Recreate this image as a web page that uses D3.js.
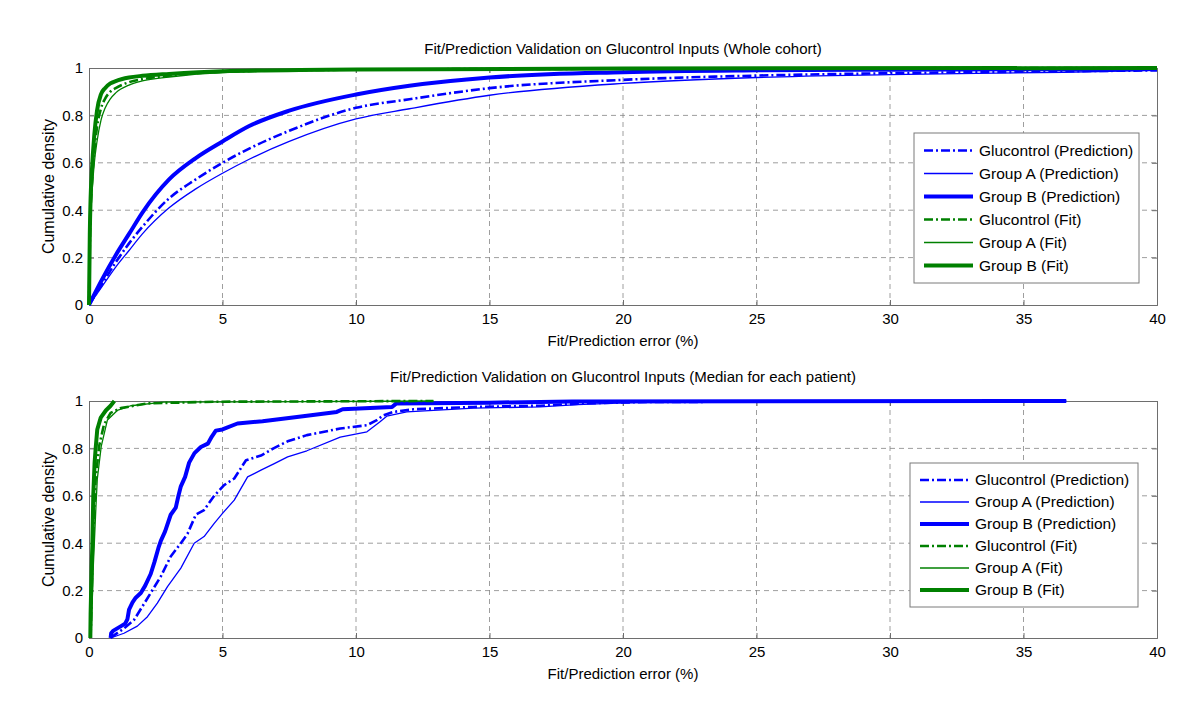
<!DOCTYPE html>
<html>
<head>
<meta charset="utf-8">
<script src="https://cdn.jsdelivr.net/npm/d3@7"></script>
<style>
  body { margin: 0; background: #fff; }
  svg { display: block; font-family: "Liberation Sans", Arial, sans-serif; }
</style>
</head>
<body>
<svg id="chart" width="1200" height="714"></svg>
<script>
// ---- data ----
var xTicks = [0, 5, 10, 15, 20, 25, 30, 35, 40];
var yTicks = [0, 0.2, 0.4, 0.6, 0.8, 1];
var yTickLabels = ["0", "0.2", "0.4", "0.6", "0.8", "1"];
var legendLabels = ["Glucontrol (Prediction)", "Group A (Prediction)", "Group B (Prediction)",
                    "Glucontrol (Fit)", "Group A (Fit)", "Group B (Fit)"];
var panelTitles = ["Fit/Prediction Validation on Glucontrol Inputs (Whole cohort)",
                   "Fit/Prediction Validation on Glucontrol Inputs (Median for each patient)"];

// whole cohort
var wholeGluPred = [[0,0],[0.5,0.09],[1,0.18],[1.5,0.26],[2,0.33],[3,0.45],[4,0.53],[5,0.6],[6,0.66],[7.5,0.735],[10,0.832],[12,0.868],[15,0.915],[20,0.95],[25,0.968],[30,0.978],[36.5,0.986],[40,0.99]];
var wholeAPred   = [[0,0],[0.5,0.08],[1,0.16],[1.5,0.23],[2,0.3],[3,0.41],[4,0.49],[5,0.556],[6,0.615],[7.5,0.69],[10,0.785],[12,0.828],[15,0.885],[20,0.935],[25,0.96],[30,0.972],[36.5,0.982],[40,0.99]];
var wholeBPred   = [[0,0],[0.5,0.11],[1,0.21],[1.5,0.3],[2,0.39],[3,0.53],[4,0.62],[5,0.69],[6,0.755],[7.5,0.82],[10,0.888],[12,0.925],[15,0.96],[20,0.982],[25,0.99],[30,0.993],[40,0.996]];
var wholeGluFit  = [[0,0],[0.03,0.25],[0.06,0.4],[0.1,0.5],[0.2,0.65],[0.3,0.75],[0.45,0.83],[0.6,0.87],[0.8,0.9],[1,0.915],[1.5,0.94],[2,0.953],[3,0.968],[5,0.984],[10,0.993],[20,0.997],[40,1]];
var wholeAFit    = [[0,0],[0.03,0.22],[0.06,0.37],[0.1,0.45],[0.2,0.6],[0.3,0.69],[0.45,0.78],[0.6,0.83],[0.8,0.87],[1,0.895],[1.5,0.928],[2,0.946],[3,0.962],[5,0.981],[10,0.992],[20,0.996],[40,1]];
var wholeBFit    = [[0,0],[0.03,0.3],[0.06,0.45],[0.1,0.55],[0.2,0.72],[0.3,0.82],[0.45,0.89],[0.6,0.915],[0.8,0.935],[1,0.945],[1.5,0.96],[2,0.967],[3,0.975],[5,0.986],[10,0.994],[20,0.998],[40,1]];

// median for each patient
var medGluPred = [[0.81,0],[0.88,0.007],[1.31,0.04],[1.69,0.077],[2.0,0.133],[2.31,0.19],[2.69,0.26],[3.06,0.344],[3.44,0.4],[3.69,0.44],[4.0,0.52],[4.31,0.54],[4.69,0.6],[5.06,0.645],[5.44,0.673],[5.88,0.75],[6.44,0.77],[6.91,0.8],[7.44,0.83],[8.16,0.856],[9.41,0.884],[10.41,0.898],[10.78,0.919],[11.03,0.94],[11.4,0.954],[12.15,0.965],[14.4,0.975],[16.9,0.98],[18.5,0.99],[21,0.996],[36.6,1]];
var medAPred   = [[0.81,0],[1.31,0.02],[1.81,0.05],[2.19,0.09],[2.56,0.147],[2.94,0.217],[3.44,0.295],[3.94,0.4],[4.31,0.428],[4.69,0.484],[5.0,0.526],[5.44,0.582],[5.94,0.68],[6.44,0.708],[6.94,0.736],[7.44,0.764],[8.16,0.79],[9.41,0.848],[10.41,0.87],[10.9,0.912],[11.15,0.936],[11.9,0.954],[14.4,0.97],[16.9,0.975],[18.3,0.985],[21.5,0.998],[36.6,1]];
var medBPred   = [[0.81,0],[0.83,0.02],[0.9,0.03],[1.2,0.05],[1.35,0.06],[1.44,0.08],[1.5,0.12],[1.63,0.15],[1.75,0.17],[1.94,0.19],[2.1,0.22],[2.31,0.27],[2.45,0.32],[2.6,0.38],[2.69,0.41],[2.85,0.45],[3.06,0.52],[3.25,0.55],[3.35,0.6],[3.44,0.64],[3.6,0.68],[3.75,0.74],[3.95,0.78],[4.19,0.806],[4.45,0.82],[4.6,0.85],[4.75,0.875],[5,0.88],[5.56,0.905],[6.5,0.915],[7.94,0.935],[9.28,0.954],[9.5,0.965],[11.35,0.975],[11.5,0.989],[15,0.993],[18.1,0.998],[36.6,1]];
var medGluFit  = [[0.06,0],[0.12,0.3],[0.19,0.53],[0.25,0.67],[0.38,0.81],[0.56,0.9],[0.81,0.95],[1.19,0.97],[2.2,0.99],[4.7,0.997],[12.9,1]];
var medAFit    = [[0.08,0],[0.16,0.3],[0.25,0.53],[0.31,0.67],[0.46,0.81],[0.69,0.92],[1.06,0.96],[1.56,0.98],[2.8,0.995],[12.9,1]];
var medBFit    = [[0.05,0],[0.06,0.1],[0.1,0.3],[0.125,0.39],[0.16,0.6],[0.21,0.74],[0.25,0.8],[0.31,0.88],[0.44,0.93],[0.63,0.96],[0.81,0.98],[0.95,1]];

var BLUE = "#0000ff", GREEN = "#008000";
// line style per legend entry (order matters: matlab draws later ones on top)
var styles = [
  {color: BLUE,  width: 2.6, dash: "9,3,2,3"},
  {color: BLUE,  width: 1.3, dash: null},
  {color: BLUE,  width: 4,   dash: null},
  {color: GREEN, width: 2.6, dash: "9,3,2,3"},
  {color: GREEN, width: 1.3, dash: null},
  {color: GREEN, width: 4,   dash: null}
];

var svg = d3.select("#chart");
var left = 89, right = 1157;

function panel(top, bottom, title, titleGap, series, smooth, legendBox) {
  var x = d3.scaleLinear().domain([0, 40]).range([left, right]);
  var y = d3.scaleLinear().domain([0, 1]).range([bottom, top]);
  var g = svg.append("g");

  // dashed grid
  g.append("g").selectAll("line").data(xTicks.slice(1, -1)).join("line")
    .attr("x1", d => x(d)).attr("x2", d => x(d))
    .attr("y1", top).attr("y2", bottom)
    .attr("stroke", "#858585").attr("stroke-width", 0.8).attr("stroke-dasharray", "5,4");
  g.append("g").selectAll("line").data(yTicks.slice(1, -1)).join("line")
    .attr("x1", left).attr("x2", right)
    .attr("y1", d => y(d)).attr("y2", d => y(d))
    .attr("stroke", "#858585").attr("stroke-width", 0.8).attr("stroke-dasharray", "5,4");

  // axes with inward ticks, matlab style
  var xAx = g.append("g").attr("transform", "translate(0," + bottom + ")")
    .call(d3.axisBottom(x).tickValues(xTicks).tickSize(-5).tickPadding(8).tickFormat(d3.format("d")));
  var xTop = g.append("g").attr("transform", "translate(0," + top + ")")
    .call(d3.axisTop(x).tickValues(xTicks).tickSize(-5).tickFormat(""));
  var yAx = g.append("g").attr("transform", "translate(" + left + ",0)")
    .call(d3.axisLeft(y).tickValues(yTicks).tickSize(-5).tickPadding(6).tickFormat((d, i) => yTickLabels[i]));
  var yRight = g.append("g").attr("transform", "translate(" + right + ",0)")
    .call(d3.axisRight(y).tickValues(yTicks).tickSize(-5).tickFormat(""));
  [xAx, xTop, yAx, yRight].forEach(function(a) {
    a.selectAll("path, line").attr("stroke", "#6e6e6e");
    a.selectAll("text").attr("font-size", 15).attr("fill", "#000").attr("font-family", "Liberation Sans, Arial, sans-serif");
  });

  // curves
  var line = d3.line().x(d => x(d[0])).y(d => y(d[1]))
    .curve(smooth ? d3.curveMonotoneX : d3.curveLinear);
  series.forEach(function(s, i) {
    g.append("path").datum(s)
      .attr("d", line)
      .attr("fill", "none")
      .attr("stroke", styles[i].color)
      .attr("stroke-width", styles[i].width)
      .attr("stroke-dasharray", styles[i].dash)
      .attr("stroke-linejoin", "round");
  });

  // labels
  g.append("text").attr("x", (left + right) / 2).attr("y", top - titleGap)
    .attr("text-anchor", "middle").attr("font-size", 15).text(title);
  g.append("text").attr("x", (left + right) / 2).attr("y", bottom + 41)
    .attr("text-anchor", "middle").attr("font-size", 15).text("Fit/Prediction error (%)");
  g.append("text")
    .attr("transform", "translate(54," + (top + bottom) / 2 + ")rotate(-90)")
    .attr("text-anchor", "middle").attr("font-size", 16).text("Cumulative density");

  // legend
  var lg = g.append("g");
  lg.append("rect").attr("x", legendBox.x).attr("y", legendBox.y)
    .attr("width", legendBox.w).attr("height", legendBox.h)
    .attr("fill", "#fff").attr("stroke", "#7a7a7a").attr("stroke-width", 1);
  var rowH = (legendBox.h - 12) / legendLabels.length;
  legendLabels.forEach(function(lbl, i) {
    var cy = legendBox.y + 6 + rowH * (i + 0.5);
    lg.append("line").attr("x1", legendBox.x + 10).attr("x2", legendBox.x + 59)
      .attr("y1", cy).attr("y2", cy)
      .attr("stroke", styles[i].color).attr("stroke-width", styles[i].width)
      .attr("stroke-dasharray", styles[i].dash);
    lg.append("text").attr("x", legendBox.x + 65).attr("y", cy).attr("dy", "0.35em")
      .attr("font-size", 15.5).text(lbl);
  });
}

panel(68, 305, panelTitles[0], 14,
  [wholeGluPred, wholeAPred, wholeBPred, wholeGluFit, wholeAFit, wholeBFit], true,
  {x: 914, y: 133, w: 225, h: 150});
panel(401, 638, panelTitles[1], 19,
  [medGluPred, medAPred, medBPred, medGluFit, medAFit, medBFit], false,
  {x: 910, y: 463, w: 228, h: 144});
</script>
</body>
</html>
